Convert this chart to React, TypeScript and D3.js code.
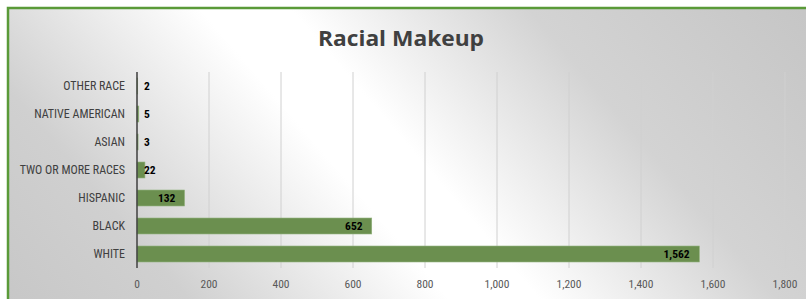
import React from 'react';
import * as d3 from 'd3';

const categories = ['OTHER RACE', 'NATIVE AMERICAN', 'ASIAN', 'TWO OR MORE RACES', 'HISPANIC', 'BLACK', 'WHITE'];
const counts = [2, 5, 3, 22, 132, 652, 1562];
const xTicks = [0, 200, 400, 600, 800, 1000, 1200, 1400, 1600, 1800];

const W = 806;
const H = 299;
const MARGIN = { top: 72, right: 21, bottom: 31, left: 137 };
const FONT = '"Liberation Sans Narrow", "Arial Narrow", "Roboto Condensed", sans-serif';

const fmt = d3.format(',');

// rough width of the bold value labels
const labelWidth = (s: string) => s.split('').reduce((w, c) => w + (c === ',' ? 3 : 6.2), 0);

const App: React.FC = () => {
  const plotW = W - MARGIN.left - MARGIN.right;
  const plotH = H - MARGIN.top - MARGIN.bottom;

  const x = d3.scaleLinear().domain([0, 1800]).range([0, plotW]);
  const y = d3.scaleBand<string>().domain(categories).range([0, plotH]).paddingInner(0.43).paddingOuter(0.215);

  return (
    <div style={{ position: 'absolute', left: 0, top: 0, width: W, height: H, overflow: 'hidden' }}>
      <svg width={W} height={H} style={{ display: 'block' }}>
        <defs>
          <linearGradient id="bg" gradientUnits="userSpaceOnUse" x1={29} y1={430} x2={681} y2={-130}>
            <stop offset="0" stopColor="#c3c3c3" />
            <stop offset="0.24" stopColor="#d0d0d0" />
            <stop offset="0.47" stopColor="#ffffff" />
            <stop offset="0.55" stopColor="#ffffff" />
            <stop offset="0.76" stopColor="#d3d3d3" />
            <stop offset="1" stopColor="#c6c6c6" />
          </linearGradient>
        </defs>
        <rect x={0} y={0} width={W} height={H} fill="#ffffff" />
        <rect x={8} y={8} width={W + 20} height={H + 20} fill="url(#bg)" stroke="#5a9a38" strokeWidth={2.5} />

        <text x={401} y={46} textAnchor="middle" fontFamily='"Open Sans", sans-serif' fontWeight="bold" fontSize={22} fill="#404040"
          textLength={166} lengthAdjust="spacingAndGlyphs">
          Racial Makeup
        </text>

        <g transform={`translate(${MARGIN.left},${MARGIN.top})`}>
          {xTicks.map(t => (
            <line key={t} x1={x(t)} x2={x(t)} y1={0} y2={plotH} stroke="#d0d0d0" strokeWidth={1} />
          ))}
          {xTicks.map(t => (
            <text key={'l' + t} x={x(t)} y={plotH + 20} textAnchor="middle" fontFamily={FONT} fontSize={11.5} fill="#595959">
              {fmt(t)}
            </text>
          ))}

          {categories.map((c, i) => {
            const v = counts[i];
            const by = y(c)!;
            const bw = x(v) - x(0);
            const label = fmt(v);
            const lw = labelWidth(label);
            const lx = Math.max(x(0) + 7, x(v) - 8 - lw);
            return (
              <g key={c}>
                <rect x={x(0)} y={by} width={bw} height={y.bandwidth()} fill="#6b8f4f" stroke="#8fb07a" strokeWidth={0.6} />
                <text x={-12} y={by + y.bandwidth() / 2} dy="0.35em" textAnchor="end" fontFamily={FONT} fontSize={12} fill="#404040">
                  {c}
                </text>
                <text x={lx} y={by + y.bandwidth() / 2} dy="0.35em" textAnchor="start" fontFamily={FONT} fontWeight="bold" fontSize={11.5} fill="#000000">
                  {label}
                </text>
              </g>
            );
          })}

          <line x1={x(0)} x2={x(0)} y1={0} y2={plotH} stroke="#404040" strokeWidth={1.5} />
        </g>
      </svg>
    </div>
  );
};

export default App;
